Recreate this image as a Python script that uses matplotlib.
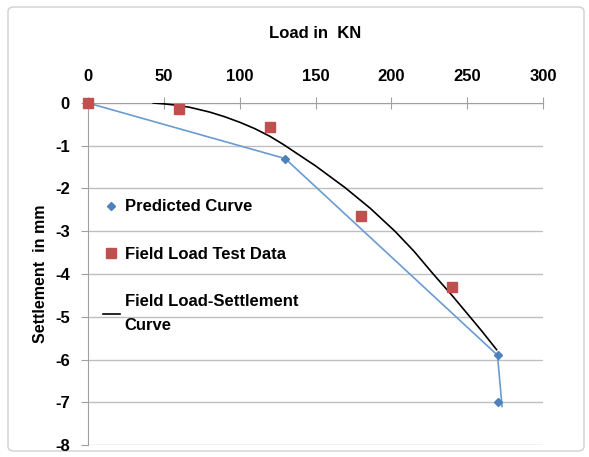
import matplotlib.pyplot as plt
from matplotlib.patches import FancyBboxPatch

# predicted curve (line) and its diamond markers
pred_load = [0, 130, 270, 273]
pred_settle = [0, -1.3, -5.9, -7.1]
pred_mark_load = [0, 130, 270, 270]
pred_mark_settle = [0, -1.3, -5.9, -7.0]

# field load test points
field_load = [0, 60, 120, 180, 240]
field_settle = [0, -0.15, -0.55, -2.65, -4.3]

# field load-settlement curve
curve_load = [43, 50, 58, 67, 80, 90, 100, 110, 120, 128.8, 150, 169.5, 186, 202.4, 215, 227.6, 240, 251.8, 260, 269.4]
curve_settle = [0, -0.02, -0.05, -0.1, -0.21, -0.32, -0.45, -0.6, -0.78, -0.97, -1.47, -1.98,
                -2.46, -3.0, -3.47, -4.0, -4.5, -5.0, -5.35, -5.77]

plt.rcParams['font.family'] = ['Liberation Sans', 'DejaVu Sans']
plt.rcParams['font.weight'] = 'bold'
plt.rcParams['axes.unicode_minus'] = False

fig = plt.figure(figsize=(5.89, 4.57), dpi=100)
border = FancyBboxPatch((8/589, 6/457), 576/589, 444/457,
                        boxstyle="round,pad=0,rounding_size=0.01",
                        transform=fig.transFigure, fc="none", ec="#d0d0d0", lw=1, zorder=-1)
fig.patches.append(border)
ax = fig.add_axes([88/589, 12/457, 455/589, 342/457])
ax.patch.set_alpha(0)

blue = "#4f81bd"
red = "#c0504d"
ax.plot(pred_load, pred_settle, color="#6a9bd1", lw=1.2, zorder=3)
ax.plot(pred_mark_load, pred_mark_settle, ls="none", marker="D", ms=4.5, color=blue,
        label="Predicted Curve", zorder=4, clip_on=False)
ax.plot(field_load, field_settle, ls="none", marker="s", ms=7, color=red,
        label="Field Load Test Data", zorder=5, clip_on=False)
ax.plot(curve_load, curve_settle, color="black", lw=1.2, label="Field Load-Settlement\nCurve", zorder=3)

ax.set_xlim(0, 300)
ax.set_ylim(-8, 0)
ax.set_xticks(range(0, 301, 50))
ax.set_yticks(range(-8, 1))
ax.xaxis.tick_top()
ax.xaxis.set_label_position("top")
ax.set_xlabel("Load in  KN", fontsize=12, fontweight="bold", labelpad=22)
ax.set_ylabel("Settlement  in mm", fontsize=11.5, fontweight="bold", labelpad=5)
ax.tick_params(axis="x", direction="inout", length=8, color="#a0a0a0", labelsize=12, pad=10)
ax.tick_params(axis="y", direction="out", length=5, color="#a0a0a0", labelsize=12, pad=8)
ax.yaxis.grid(True, color="#bfbfbf", lw=1)
for s in ["right", "bottom"]:
    ax.spines[s].set_visible(False)
for s in ["top", "left"]:
    ax.spines[s].set_color("#a0a0a0")

leg = ax.legend(loc="upper left", bbox_to_anchor=(0.0, 0.762), frameon=False, fontsize=12,
                labelspacing=1.95, handlelength=1.0, handletextpad=0.3)
for t in leg.get_texts():
    t.set_linespacing(1.7)

fig.savefig("out.png", dpi=100)
